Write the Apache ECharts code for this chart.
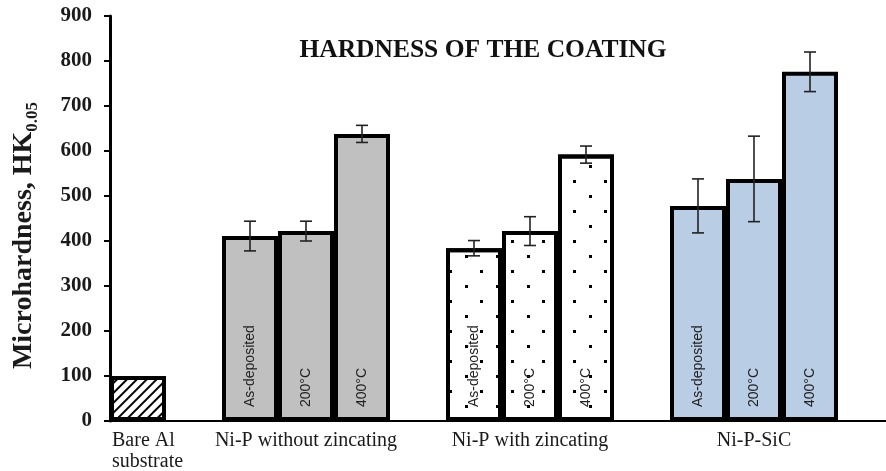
<!DOCTYPE html>
<html><head><meta charset="utf-8">
<script src="https://cdn.jsdelivr.net/npm/echarts@6/dist/echarts.min.js"></script>
<style>html,body{margin:0;padding:0;background:#fff}#c{width:886px;height:471px}</style>
</head><body><div id="c"></div>
<script>
// ---- data ----
var groupNames = ['Bare Al\nsubstrate', 'Ni-P without zincating', 'Ni-P with zincating', 'Ni-P-SiC'];
var barLabels = ['As-deposited', '200°C', '400°C'];
var bareValue = [100];
var nipNoZincValues = [411, 422, 638];
var nipNoZincErr = [33, 22, 19];
var nipZincValues = [384, 422, 592];
var nipZincErr = [17, 32, 19];
var sicValues = [478, 538, 776];
var sicErr = [60, 95, 44];
var yTicks = [0, 100, 200, 300, 400, 500, 600, 700, 800, 900];

// slot layout: one slot per bar, gaps between groups
var SLOTS = 14;
var bareSlots = [0];
var groupSlots = [[2,3,4],[6,7,8],[10,11,12]];
var labelSlots = {0:0, 3:1, 7:2, 11:3};

var cats = [];
for (var i = 0; i < SLOTS; i++) cats.push(String(i));
function fill(slots, vals) {
  var a = []; for (var i = 0; i < SLOTS; i++) a.push('-');
  slots.forEach(function (s, k) { a[s] = vals[k]; });
  return a;
}
var slotBarLabel = {};
groupSlots.forEach(function (g) { g.forEach(function (s, k) { slotBarLabel[s] = barLabels[k]; }); });

var errData = [];
function addErr(slots, vals, errs) {
  slots.forEach(function (s, k) { if (errs[k] > 0) errData.push([s, vals[k] - errs[k], vals[k] + errs[k]]); });
}
addErr(groupSlots[0], nipNoZincValues, nipNoZincErr);
addErr(groupSlots[1], nipZincValues, nipZincErr);
addErr(groupSlots[2], sicValues, sicErr);

var serif = '"Liberation Serif","Times New Roman",serif';
var sans = '"Liberation Sans",Arial,sans-serif';
var barLabel = {
  show: true, position: 'insideBottom', rotate: 90, align: 'left', verticalAlign: 'middle',
  distance: 14, fontFamily: sans, fontSize: 14, color: '#222',
  formatter: function (p) { return slotBarLabel[p.dataIndex] || ''; }
};
function barSeries(name, data, itemStyle, withLabel) {
  return {
    name: name, type: 'bar', stack: 'all', data: data, barWidth: '100%',
    itemStyle: Object.assign({ borderColor: '#000', borderWidth: 4 }, itemStyle),
    label: withLabel ? barLabel : { show: false },
    emphasis: { disabled: true }, silent: true
  };
}

var chart = echarts.init(document.getElementById('c'), null, { renderer: 'canvas' });
chart.setOption({
  animation: false,
  backgroundColor: '#fff',
  title: {
    text: 'HARDNESS OF THE COATING', left: 478, top: 32, textAlign: 'center',
    textStyle: { fontFamily: serif, fontWeight: 'bold', fontSize: 25.5, color: '#111' }
  },
  grid: { left: 110, top: 16, width: 784, height: 405, containLabel: false, outerBoundsMode: 'none' },
  xAxis: {
    type: 'category', data: cats,
    axisLine: { lineStyle: { color: '#000', width: 2 } },
    axisTick: { show: false },
    axisLabel: {
      interval: 0, margin: 9, fontFamily: serif, fontSize: 20, color: '#1a1a1a', lineHeight: 21,
      formatter: function (v, idx) {
        if (!labelSlots.hasOwnProperty(idx)) return '';
        if (idx === 0) return groupNames[0].split('\n').map(function (t) { return '{l|' + t + '}'; }).join('\n');
        return groupNames[labelSlots[idx]];
      },
      rich: {
        l: { fontFamily: serif, fontSize: 20, color: '#1a1a1a', lineHeight: 21, width: 70, align: 'left', padding: [0, 0, 0, 18] }
      }
    }
  },
  yAxis: {
    type: 'value', min: 0, max: 900, interval: 100,
    splitLine: { show: false },
    axisLine: { show: true, lineStyle: { color: '#000', width: 3 } },
    axisTick: { show: true, length: 6, lineStyle: { color: '#000', width: 2 } },
    axisLabel: { margin: 18, fontFamily: serif, fontWeight: 'bold', fontSize: 21, color: '#1a1a1a',
      formatter: function (v) { return yTicks.indexOf(v) >= 0 ? String(v) : ''; } },
    name: '{a|Microhardness, HK}{b|0.05}', nameLocation: 'middle', nameGap: 69, nameRotate: 90,
    nameTextStyle: {
      padding: [0, 34, 0, 0],
      rich: {
        a: { fontFamily: serif, fontWeight: 'bold', fontSize: 28, color: '#1a1a1a', lineHeight: 34, verticalAlign: 'middle' },
        b: { fontFamily: serif, fontWeight: 'bold', fontSize: 17, color: '#1a1a1a', lineHeight: 17, verticalAlign: 'bottom' }
      }
    }
  },
  series: [
    barSeries('Bare Al substrate', fill(bareSlots, bareValue), {
      color: '#fff',
      decal: { symbol: 'rect', color: '#000', dashArrayX: [1, 0], dashArrayY: [2, 5], rotation: -Math.PI / 4 }
    }, false),
    barSeries('Ni-P without zincating', fill(groupSlots[0], nipNoZincValues), { color: '#c0c0c0' }, true),
    barSeries('Ni-P with zincating', fill(groupSlots[1], nipZincValues), {
      color: '#fff',
      decal: { symbol: 'rect', symbolSize: 1, color: '#000', dashArrayX: [[3, 28], [0, 15, 3, 13]], dashArrayY: [3, 12] }
    }, true),
    barSeries('Ni-P-SiC', fill(groupSlots[2], sicValues), { color: '#b9cde4' }, true),
    {
      type: 'custom', silent: true, data: errData, z: 10,
      renderItem: function (params, api) {
        var x = api.value(0);
        var lo = api.coord([x, api.value(1)]);
        var hi = api.coord([x, api.value(2)]);
        var w = 6;
        var st = { stroke: '#222', lineWidth: 1.6 };
        return { type: 'group', children: [
          { type: 'line', shape: { x1: lo[0], y1: lo[1], x2: hi[0], y2: hi[1] }, style: st },
          { type: 'line', shape: { x1: lo[0] - w, y1: lo[1], x2: lo[0] + w, y2: lo[1] }, style: st },
          { type: 'line', shape: { x1: hi[0] - w, y1: hi[1], x2: hi[0] + w, y2: hi[1] }, style: st }
        ]};
      }
    }
  ]
});
</script></body></html>
